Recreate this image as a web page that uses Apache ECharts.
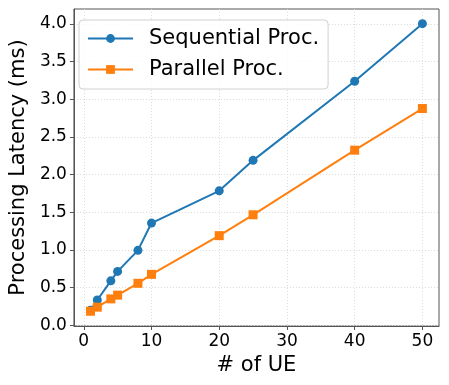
<!DOCTYPE html>
<html>
<head>
<meta charset="utf-8">
<script src="https://cdn.jsdelivr.net/npm/echarts@6/dist/echarts.min.js"></script>
<style>
  html, body { margin: 0; padding: 0; background: #fff; }
  #chart { width: 449px; height: 385px; }
</style>
</head>
<body>
<div id="chart"></div>
<script>
  // data
  var ueCounts = [1, 2, 4, 5, 8, 10, 20, 25, 40, 50];
  var sequential = [0.20, 0.335, 0.59, 0.715, 0.995, 1.357, 1.785, 2.19, 3.24, 4.005];
  var parallel = [0.186, 0.24, 0.35, 0.40, 0.557, 0.676, 1.19, 1.467, 2.325, 2.878];
  var xTicks = [0, 10, 20, 30, 40, 50];
  var yTicks = [0, 0.5, 1.0, 1.5, 2.0, 2.5, 3.0, 3.5, 4.0];

  var font = 'DejaVu Sans';

  function pairs(xs, ys) {
    return xs.map(function (x, i) { return [x, ys[i]]; });
  }

  var chart = echarts.init(document.getElementById('chart'));
  chart.setOption({
    animation: false,
    backgroundColor: '#fff',
    textStyle: { fontFamily: font },
    grid: {
      left: 69, top: 9, right: 10, bottom: 59,
      show: true, borderColor: '#555', borderWidth: 1
    },
    legend: {
      left: 79, top: 20,
      orient: 'vertical',
      padding: [8, 9, 9, 8],
      itemWidth: 45, itemHeight: 11, itemGap: 10,
      backgroundColor: 'rgba(255,255,255,0.8)',
      borderColor: '#d0d0d0', borderWidth: 1, borderRadius: 4,
      textStyle: { fontFamily: font, fontSize: 21, lineHeight: 21, color: '#000', padding: [0, 0, 0, 11] },
      data: ['Sequential Proc.', 'Parallel Proc.']
    },
    xAxis: {
      type: 'value',
      min: -1.45, max: 52.45,
      name: '# of UE',
      nameLocation: 'middle', nameGap: 24,
      nameTextStyle: { fontFamily: font, fontSize: 21, color: '#000' },
      axisLine: { show: true, onZero: false, lineStyle: { color: '#555', width: 1 } },
      axisTick: { show: true, length: 4, customValues: xTicks, lineStyle: { color: '#555' } },
      axisLabel: {
        customValues: xTicks, margin: 7,
        fontFamily: font, fontSize: 17, color: '#000'
      },
      splitLine: { show: true, lineStyle: { color: '#dcdcdc', type: [1, 2], width: 1 } }
    },
    yAxis: {
      type: 'value',
      min: -0.01, max: 4.2,
      name: 'Processing Latency (ms)',
      nameLocation: 'middle', nameGap: 38,
      nameTextStyle: { fontFamily: font, fontSize: 21, color: '#000' },
      axisLine: { show: true, onZero: false, lineStyle: { color: '#555', width: 1 } },
      axisTick: { show: true, length: 4, customValues: yTicks, lineStyle: { color: '#555' } },
      axisLabel: {
        customValues: yTicks, margin: 7,
        fontFamily: font, fontSize: 17, color: '#000',
        formatter: function (v) { return v.toFixed(1); }
      },
      splitLine: { show: true, lineStyle: { color: '#dcdcdc', type: [1, 2], width: 1 } }
    },
    series: [
      {
        name: 'Sequential Proc.',
        type: 'line',
        data: pairs(ueCounts, sequential),
        symbol: 'circle', symbolSize: 9,
        color: '#1f77b4',
        lineStyle: { width: 2 }
      },
      {
        name: 'Parallel Proc.',
        type: 'line',
        data: pairs(ueCounts, parallel),
        symbol: 'rect', symbolSize: 9,
        color: '#ff7f0e',
        lineStyle: { width: 2 }
      }
    ]
  });
</script>
</body>
</html>
